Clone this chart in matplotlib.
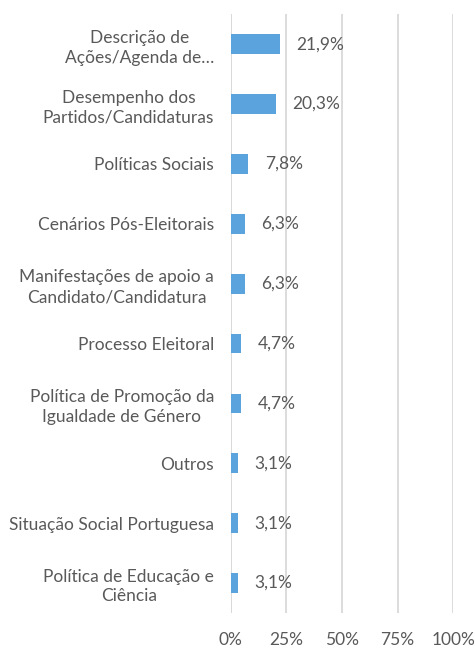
import matplotlib.pyplot as plt
import numpy as np

CATEGORIES = [
    "Descrição de\nAções/Agenda de…",
    "Desempenho dos\nPartidos/Candidaturas",
    "Políticas Sociais",
    "Cenários Pós-Eleitorais",
    "Manifestações de apoio a\nCandidato/Candidatura",
    "Processo Eleitoral",
    "Política de Promoção da\nIgualdade de Género",
    "Outros",
    "Situação Social Portuguesa",
    "Política de Educação e\nCiência",
]
VALUES = [21.9, 20.3, 7.8, 6.3, 6.3, 4.7, 4.7, 3.1, 3.1, 3.1]
XTICKS = [0, 25, 50, 75, 100]

TEXT_COLOR = "#595959"
BAR_COLOR = "#5BA3DD"
GRID_COLOR = "#D9D9D9"

plt.rcParams["font.family"] = ["Lato", "DejaVu Sans"]

fig = plt.figure(figsize=(4.75, 6.48), dpi=100)
ax = fig.add_axes([0.486, 0.054, 0.468, 0.924])

ys = np.arange(len(VALUES))
bars = ax.barh(ys, VALUES, height=0.33, color=BAR_COLOR, zorder=3)
ax.bar_label(bars, labels=[f"{v:.1f}%".replace(".", ",") for v in VALUES],
             padding=12, color=TEXT_COLOR, fontsize=12.5)

ax.set_ylim(len(VALUES) - 0.5, -0.5)
ax.set_xlim(0, 100)
ax.set_yticks(ys, CATEGORIES)
ax.set_xticks(XTICKS, [f"{t}%" for t in XTICKS])
ax.tick_params(axis="y", length=0, pad=12, labelsize=12.5, labelcolor=TEXT_COLOR)
ax.tick_params(axis="x", length=0, pad=14, labelsize=12.5, labelcolor=TEXT_COLOR)
for lbl in ax.get_yticklabels():
    lbl.set_horizontalalignment("right")
    lbl.set_multialignment("center")
    lbl.set_linespacing(1.3)

ax.xaxis.grid(True, color=GRID_COLOR, linewidth=1.3, zorder=0)
for s in ax.spines.values():
    s.set_visible(False)
ax.axvline(0, color=GRID_COLOR, linewidth=1.3, zorder=1)

fig.savefig("out.png", dpi=100)
